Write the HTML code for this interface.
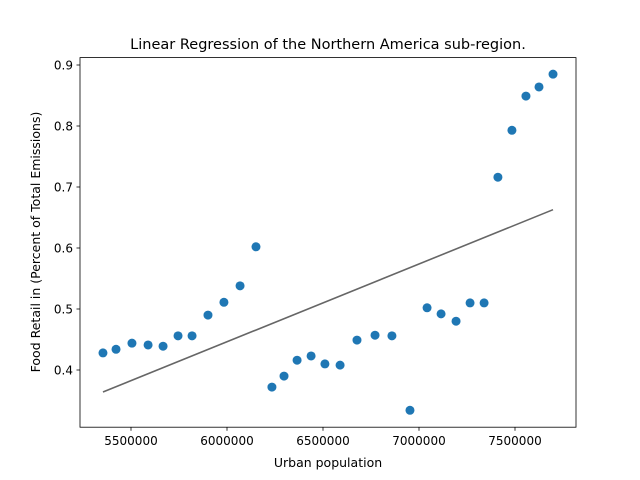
<!DOCTYPE html>
<html><head><meta charset="utf-8"><style>
body{margin:0;background:#fff}
svg{display:block;font-family:"DejaVu Sans","Liberation Sans",sans-serif}
</style></head><body>
<svg id="chart" width="640" height="480">
<rect width="640" height="480" fill="#fff"/>
<g id="marks"></g>
<rect x="80" y="57.6" width="496" height="369.6" fill="none" stroke="#000" stroke-width="0.8"/>
<g id="ticks"></g>
<text x="328" y="49" text-anchor="middle" font-size="14.5">Linear Regression of the Northern America sub-region.</text>
<text x="328" y="467" text-anchor="middle" font-size="12.5">Urban population</text>
<text transform="translate(40,242) rotate(-90)" text-anchor="middle" font-size="12.5">Food Retail in (Percent of Total Emissions)</text>
</svg>
<script>
const xValues=[5354000,5422000,5505000,5589000,5667000,5745000,5818000,5901000,5984000,6068000,6151000,6234000,6297000,6365000,6438000,6510000,6589000,6677000,6771000,6859000,6953000,7042000,7115000,7193000,7266000,7339000,7411000,7484000,7557000,7625000,7698000];
const yValues=[0.428,0.434,0.444,0.441,0.439,0.456,0.456,0.490,0.511,0.538,0.602,0.372,0.390,0.416,0.423,0.410,0.408,0.449,0.457,0.456,0.334,0.502,0.492,0.480,0.510,0.510,0.716,0.793,0.849,0.864,0.885];
const xTicks=[5500000,6000000,6500000,7000000,7500000];
const yTicks=[0.4,0.5,0.6,0.7,0.8,0.9];
const NS='http://www.w3.org/2000/svg';
function sx(v){return 131+(v-5500000)*192e-6;}
function sy(v){return 370-(v-0.4)*610;}
function mk(t,a,p){const e=document.createElementNS(NS,t);for(const k in a)e.setAttribute(k,a[k]);p.appendChild(e);return e;}
const marks=document.getElementById('marks'),ticks=document.getElementById('ticks');
const n=xValues.length;let mx=0,my=0;for(let i=0;i<n;i++){mx+=xValues[i];my+=yValues[i];}mx/=n;my/=n;
let sxy=0,sxx=0;for(let i=0;i<n;i++){sxy+=(xValues[i]-mx)*(yValues[i]-my);sxx+=(xValues[i]-mx)**2;}
const b=sxy/sxx,a=my-b*mx;const x0=Math.min(...xValues),x1=Math.max(...xValues);
const ln=mk('line',{x1:sx(x0),y1:sy(a+b*x0),x2:sx(x1),y2:sy(a+b*x1),stroke:'#666',"stroke-width":1.6},marks);


for(let i=0;i<n;i++){const c=mk('circle',{cx:sx(xValues[i]),cy:sy(yValues[i]),r:4.5,fill:'#1f77b4'},marks);

}
xTicks.forEach(v=>{const x=sx(v);mk('line',{x1:x,x2:x,y1:427.2,y2:430.7,stroke:'#000',"stroke-width":0.8},ticks);
const t=mk('text',{x:x,y:445,"text-anchor":"middle","font-size":"12"},ticks);t.textContent=v;

});
yTicks.forEach(v=>{const y=sy(v);mk('line',{x1:76.5,x2:80,y1:y,y2:y,stroke:'#000',"stroke-width":0.8},ticks);
const t=mk('text',{x:73,y:y+4.5,"text-anchor":"end","font-size":"12"},ticks);t.textContent=v.toFixed(1);

});
</script>
</body></html>
